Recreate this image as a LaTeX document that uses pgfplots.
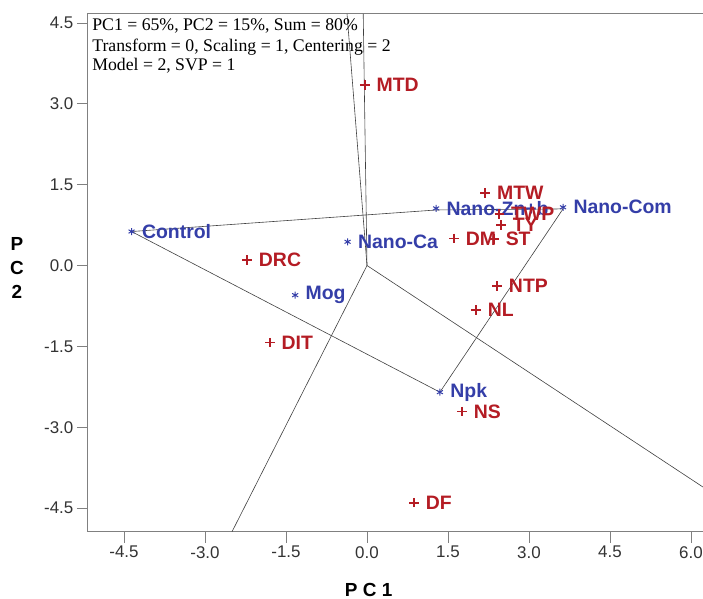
\documentclass[border=0pt]{standalone}
\usepackage{pgfplots}
\pgfplotsset{compat=1.18}
\usepackage{fontspec}
\setmainfont{Liberation Sans}
\newfontfamily\tnr{Liberation Serif}
\definecolor{gblue}{RGB}{52,62,168}
\definecolor{tred}{RGB}{180,28,36}
\definecolor{axgray}{RGB}{128,128,128}

\begin{document}
\begin{tikzpicture}
\begin{axis}[
    x=54bp, y=53.9bp,
    xmin=-5.17, xmax=6.26,
    ymin=-4.94, ymax=4.67,
    axis line style={axgray, line width=0.8bp},
    tick style={axgray, line width=0.8bp},
    major tick length=11bp,
    tick align=outside,
    tick pos=left,
    xtick={-4.5,-3,-1.5,0,1.5,3,4.5,6},
    xticklabels={-4.5,-3.0,-1.5,0.0,1.5,3.0,4.5,6.0},
    ytick={-4.5,-3,-1.5,0,1.5,3,4.5},
    yticklabels={-4.5,-3.0,-1.5,0.0,1.5,3.0,4.5},
    ticklabel style={font=\fontsize{17}{17}\selectfont, text=black!80},
    xlabel={P C 1},
    ylabel={P\\C\\2},
    xlabel style={font=\bfseries\fontsize{19}{19}\selectfont, at={(axis description cs:0.455,-0.112)}, anchor=center},
    ylabel style={font=\bfseries\fontsize{19}{24}\selectfont, align=center, rotate=-90, at={(axis description cs:-0.115,0.51)}, anchor=center},
]

% polygon of the vertex treatments
\addplot[black!75, line width=0.6bp, mark=none] coordinates {
    (-4.36,0.63) (1.28,1.03) (3.63,1.05) (1.35,-2.35) (-4.36,0.63)
};
% rays from the origin
\addplot[black!75, line width=0.6bp, mark=none] coordinates {(0,0) (-0.37,4.67)};
\addplot[black!75, line width=0.6bp, mark=none] coordinates {(0,0) (-0.07,4.67)};
\addplot[black!75, line width=0.6bp, mark=none] coordinates {(0,0) (-2.50,-4.94)};
\addplot[black!75, line width=0.6bp, mark=none] coordinates {(0,0) (6.6,-4.36)};

% treatments
\addplot[only marks, mark=asterisk, mark size=3.5bp, gblue, line width=1bp,
    point meta=explicit symbolic, nodes near coords,
    every node near coord/.style={anchor=west, inner sep=0pt, xshift=10bp,
        font=\bfseries\fontsize{19.5}{19.5}\selectfont, text=gblue}]
table[meta=lab] {
x y lab
-4.36 0.63 Control
1.28 1.06 Nano-Zn+b
3.63 1.08 Nano-Com
1.35 -2.35 Npk
-0.36 0.44 Nano-Ca
-1.33 -0.55 Mog
};

% traits
\addplot[only marks, mark=+, mark size=4.8bp, tred, line width=1.7bp,
    point meta=explicit symbolic, nodes near coords,
    every node near coord/.style={anchor=west, inner sep=0pt, xshift=11bp,
        font=\bfseries\fontsize{19.5}{19.5}\selectfont, text=tred}]
table[meta=lab] {
x y lab
-0.04 3.35 MTD
-2.22 0.10 DRC
-1.80 -1.43 DIT
0.87 -4.40 DF
1.76 -2.71 NS
2.19 1.35 MTW
1.61 0.50 DM
2.35 0.49 ST
2.45 0.95 TWP
2.48 0.75 TY
2.41 -0.38 NTP
2.02 -0.83 NL
};

\node[anchor=base west, inner sep=0pt, font=\tnr\fontsize{17.8}{20}\selectfont]
    at (axis cs:-5.09,4.356) {PC1 = 65\%, PC2 = 15\%, Sum = 80\%};
\node[anchor=base west, inner sep=0pt, font=\tnr\fontsize{17.8}{20}\selectfont]
    at (axis cs:-5.09,3.966) {Transform = 0, Scaling = 1, Centering = 2};
\node[anchor=base west, inner sep=0pt, font=\tnr\fontsize{17.8}{20}\selectfont]
    at (axis cs:-5.09,3.614) {Model = 2, SVP = 1};

\coordinate (O) at (axis cs:0,0);
\end{axis}
\pgfresetboundingbox
\path[use as bounding box] ([shift={(-367bp,-333.5bp)}]O) rectangle ([shift={(336bp,265.5bp)}]O);
\end{tikzpicture}
\end{document}
